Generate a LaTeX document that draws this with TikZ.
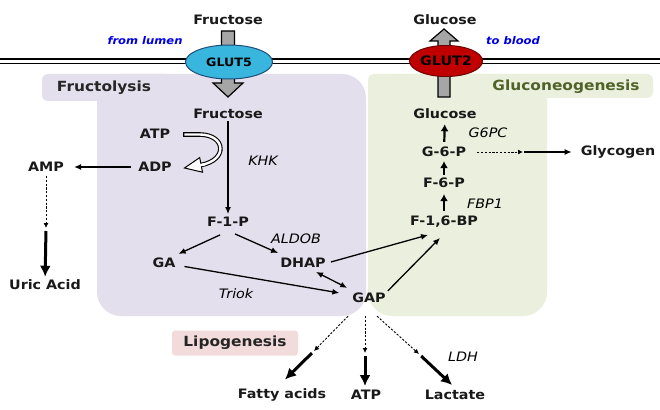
\documentclass[tikz,border=0pt]{standalone}
\usepackage{fontspec}
\setmainfont[FakeStretch=1.1]{DejaVu Sans}
\usetikzlibrary{arrows.meta,shapes.geometric}
\definecolor{purpbox}{RGB}{228,223,236}
\definecolor{greenbox}{RGB}{235,240,222}
\definecolor{pinkbox}{RGB}{242,220,219}
\definecolor{glutfivefill}{RGB}{56,182,222}
\definecolor{glutfivedraw}{RGB}{31,78,121}
\definecolor{gluttwofill}{RGB}{192,0,0}
\definecolor{gluttwodraw}{RGB}{110,0,0}
\definecolor{olivetext}{RGB}{79,98,40}
\definecolor{arrowgray}{RGB}{166,166,166}
\definecolor{lumenblue}{RGB}{0,0,230}
\begin{document}
\begin{tikzpicture}[x=1pt,y=-1pt,
 lbl/.style={font=\bfseries\fontsize{13}{15}\selectfont, inner sep=1pt, text=black!90},
 enz/.style={font=\itshape\fontsize{13}{15}\selectfont, inner sep=1pt},
 note/.style={font=\bfseries\itshape\fontsize{10.5}{12}\selectfont, text=lumenblue, inner sep=1pt},
 head/.style={font=\bfseries\fontsize{14}{16}\selectfont, inner sep=1pt},
 arr/.style={line width=1.3pt, -{Latex[length=7pt,width=6pt]}},
 dblarr/.style={line width=1.3pt, {Latex[length=7pt,width=6pt]}-{Latex[length=7pt,width=6pt]}},
 fatarr/.style={line width=3pt, -{Latex[length=11pt,width=11pt]}},
 colarr/.style={line width=2.2pt, -{Latex[length=7pt,width=8pt]}},
 dasharr/.style={line width=0.9pt, dash pattern=on 2.2pt off 1.6pt, -{Latex[length=5pt,width=5pt]}},
]
\useasboundingbox (0,0) rectangle (660,409);
\fill[white] (0,0) rectangle (660,409);

% regions
\fill[purpbox, rounded corners=24pt] (97,74) rectangle (366,316);
\fill[purpbox, rounded corners=6pt] (42,74) rectangle (170,101);
\fill[greenbox, rounded corners=24pt] (368,74) rectangle (547,316);
\fill[greenbox, rounded corners=6pt] (368,74) rectangle (653,98);
\node[head, text=black!85] (fructolysis) at (104,88) {Fructolysis};
\node[head, text=olivetext] (gluconeo) at (566,87) {Gluconeogenesis};

% membrane
\draw[line width=1.3pt] (0,59) -- (660,59);
\draw[line width=1.3pt] (0,63.5) -- (660,63.5);

% transport block arrows
\filldraw[fill=arrowgray, draw=black, line width=1.2pt] (221.5,31) -- (234.5,31) -- (234.5,83) -- (243,83) -- (228,97) -- (213,83) -- (221.5,83) -- cycle;
\filldraw[fill=arrowgray, draw=black, line width=1.2pt] (438,97) -- (450,97) -- (450,41) -- (458,41) -- (444,29) -- (430,41) -- (438,41) -- cycle;

\node[ellipse, fill=glutfivefill, draw=glutfivedraw, line width=1pt, minimum width=87pt, minimum height=34pt, inner sep=0pt, font=\bfseries\fontsize{11.5}{13}\selectfont] (glut5) at (229,62) {GLUT5};
\node[ellipse, fill=gluttwofill, draw=gluttwodraw, line width=1pt, minimum width=73pt, minimum height=31pt, inner sep=0pt, font=\bfseries\fontsize{13}{15}\selectfont] (glut2) at (446,61) {GLUT2};

\node[lbl] (fruTop) at (228,20) {Fructose};
\node[lbl] (gluTop) at (445,20) {Glucose};
\node[note] (lumen) at (145,41) {from lumen};
\node[note] (blood) at (513,41) {to blood};

% fructolysis nodes
\node[lbl] (fru) at (228,114) {Fructose};
\node[lbl] (atp) at (155,134) {ATP};
\node[lbl] (adp) at (155,167) {ADP};
\node[lbl] (amp) at (46,167) {AMP};
\node[lbl] (uric) at (45,285) {Uric Acid};
\node[enz] (khk) at (263,161) {KHK};
\node[lbl] (f1p) at (228,222) {F-1-P};
\node[enz] (aldob) at (296,239) {ALDOB};
\node[lbl] (ga) at (164,263) {GA};
\node[lbl] (dhap) at (303,263) {DHAP};
\node[enz] (triok) at (236,294) {Triok};
\node[lbl] (gap) at (369,298) {GAP};

% gluconeogenesis nodes
\node[lbl] (f16bp) at (444,222) {F-1,6-BP};
\node[enz] (fbp1) at (485,204) {FBP1};
\node[lbl] (f6p) at (444,183) {F-6-P};
\node[lbl] (g6p) at (444,152) {G-6-P};
\node[enz] (g6pc) at (488,133) {G6PC};
\node[lbl] (glu) at (445,114) {Glucose};
\node[lbl] (glycogen) at (618,152) {Glycogen};

% outputs
\node[head, fill=pinkbox, rounded corners=3pt, minimum width=126pt, minimum height=25pt, text=black!85] (lipo) at (235,343) {Lipogenesis};
\node[lbl] (fatty) at (282,395) {Fatty acids};
\node[lbl] (atp2) at (366,395) {ATP};
\node[lbl] (lact) at (455,395) {Lactate};
\node[enz] (ldh) at (463,357) {LDH};

% ATP -> ADP hollow curved arrow
\draw[line width=4.6pt, black] (183,134.5) -- (200,134.5) .. controls (226,135) and (228,160) .. (201,165);
\draw[line width=2.4pt, white] (184.3,134.5) -- (200,134.5) .. controls (226,135) and (228,160) .. (201,165);
\filldraw[fill=white, draw=black, line width=1pt] (199.7,157.6) -- (184.5,168) -- (202.5,172.2) -- cycle;
\draw[line width=2.4pt, white] (205,164.3) -- (199.8,165.3);

% connectors
\draw[arr, shorten <=1pt, shorten >=2pt] (fru) -- (f1p);
\draw[arr, shorten <=6pt, shorten >=9pt] (adp) -- (amp);
\coordinate (ampmid) at (46,228);
\draw[dasharr, shorten <=3pt] (amp) -- (ampmid);
\draw[fatarr, shorten <=3pt, shorten >=2pt] (ampmid) -- (uric);

\draw[arr] ([shift={(-8,7)}]f1p.south) -- ([shift={(2,-3)}]ga.north east);
\draw[arr] ([shift={(7,6)}]f1p.south) -- ([shift={(-1,-4)}]dhap.north west);
\draw[arr, shorten <=8pt, shorten >=12pt] (ga) -- (gap);
\draw[dblarr] ([shift={(13,3)}]dhap.south) -- ([shift={(-4,-4)}]gap.north west);
\draw[arr] ([shift={(4,-1)}]dhap.east) -- ([shift={(-16,6)}]f16bp.south);
\draw[arr] ([shift={(1,-1)}]gap.north east) -- ([shift={(-4,9)}]f16bp.south);

\draw[colarr, shorten <=4pt, shorten >=5pt] (f16bp) -- (f6p);
\draw[colarr, shorten <=2pt, shorten >=3pt] (f6p) -- (g6p);
\draw[colarr, shorten <=4pt, shorten >=4pt] (g6p) -- (glu);

\coordinate (glymid) at (523,152);
\draw[dasharr, shorten <=10pt] (g6p) -- (glymid);
\draw[arr, shorten <=1pt, shorten >=8pt] (glymid) -- (glycogen);

\coordinate (famid) at (314,351);
\coordinate (atmid) at (365,353);
\coordinate (lamid) at (419,354);
\draw[dasharr] ([shift={(-21,12)}]gap.south) -- (famid);
\draw[dasharr] ([shift={(-4,12)}]gap.south) -- (atmid);
\draw[dasharr] ([shift={(8,12)}]gap.south) -- (lamid);
\draw[fatarr, shorten <=3pt] (famid) -- ([shift={(3,-8)}]fatty.north);
\draw[fatarr, shorten <=3pt] (atmid) -- ([shift={(-1,-3)}]atp2.north);
\draw[fatarr, shorten <=3pt] (lamid) -- ([shift={(-3,-4)}]lact.north);
\end{tikzpicture}
\end{document}
